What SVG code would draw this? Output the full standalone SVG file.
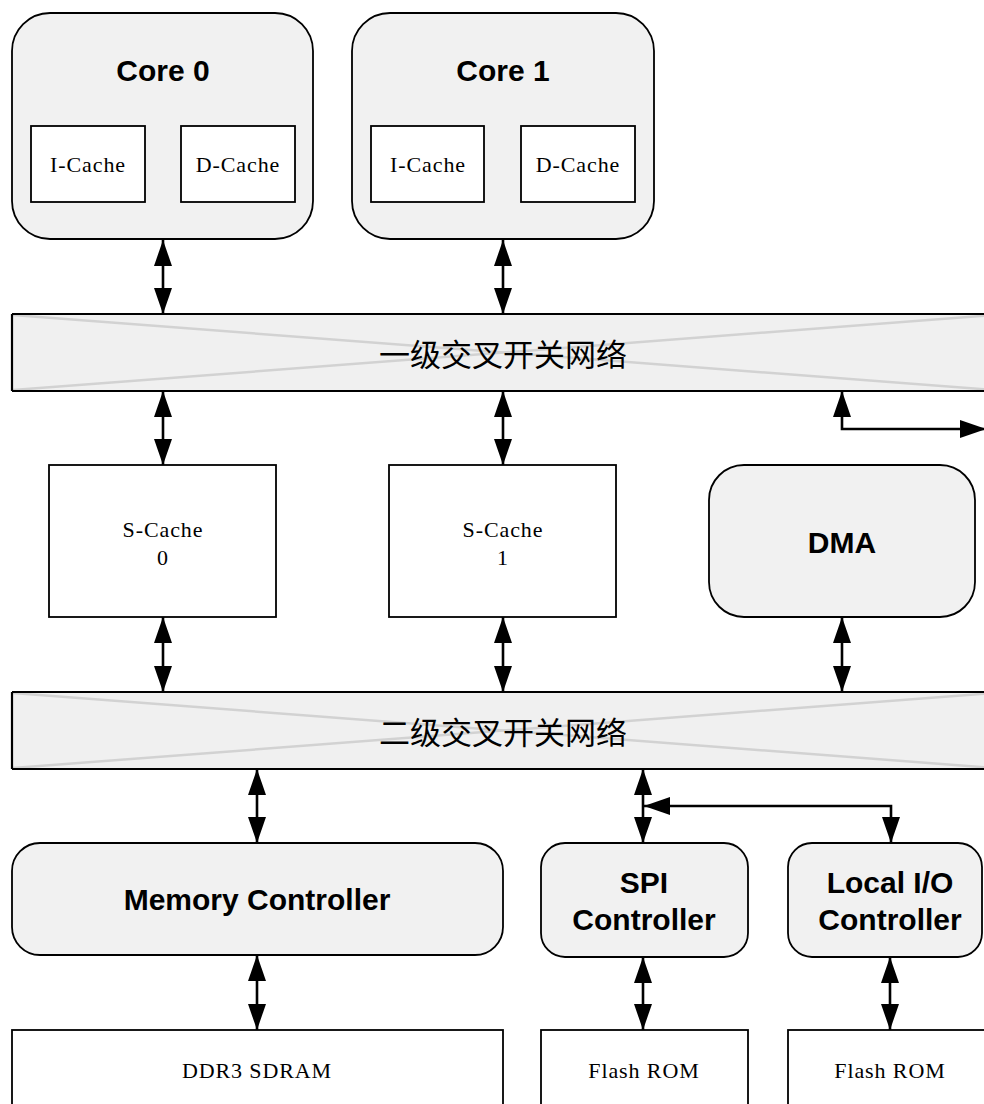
<svg xmlns="http://www.w3.org/2000/svg" width="984" height="1104" viewBox="0 0 984 1104">
<style>
.grp{fill:#f1f1f1;stroke:#000;stroke-width:1.8}
.box{fill:#fff;stroke:#000;stroke-width:1.8}
.bar{fill:#f0f0f0;stroke:none}
.barline{stroke:#000;stroke-width:2.2}
.diag{stroke:#d2d2d2;stroke-width:2.5}
.bold{font-family:"Liberation Sans",Arial,sans-serif;font-weight:bold;font-size:30px;text-anchor:middle;fill:#000}
.ser{font-family:"Liberation Serif","Times New Roman",serif;font-size:22px;letter-spacing:0.9px;text-anchor:middle;fill:#000}
.cjk{font-family:"Liberation Sans","Noto Sans CJK SC",sans-serif;font-size:31px;text-anchor:middle;fill:#000}
.conn{fill:none;stroke:#000;stroke-width:2.6}
</style>
<defs>
<marker id="ah" markerUnits="userSpaceOnUse" markerWidth="27" markerHeight="19" refX="26" refY="9" orient="auto-start-reverse" viewBox="0 0 27 19">
<path d="M0,0 L26,9 L0,18 z" fill="#000"/>
</marker>
</defs>

<g id="core0">
<rect class="grp" x="12" y="13" width="301" height="226" rx="38"/>
<text class="bold" x="163" y="81">Core 0</text>
<rect class="box" x="31" y="126" width="114" height="76"/>
<text class="ser" x="88" y="172">I-Cache</text>
<rect class="box" x="181" y="126" width="114" height="76"/>
<text class="ser" x="238" y="172">D-Cache</text>
</g>

<g id="core1">
<rect class="grp" x="352" y="13" width="302" height="226" rx="38"/>
<text class="bold" x="503" y="81">Core 1</text>
<rect class="box" x="371" y="126" width="113" height="76"/>
<text class="ser" x="428" y="172">I-Cache</text>
<rect class="box" x="521" y="126" width="114" height="76"/>
<text class="ser" x="578" y="172">D-Cache</text>
</g>

<g id="xbar1">
<rect class="bar" x="12" y="314" width="982" height="77"/>
<line class="diag" x1="13" y1="315" x2="994" y2="390"/>
<line class="diag" x1="13" y1="390" x2="994" y2="315"/>
<line class="barline" x1="12" y1="314" x2="994" y2="314"/>
<line class="barline" x1="12" y1="391" x2="994" y2="391"/>
<line class="barline" x1="12" y1="314" x2="12" y2="391"/>
<text class="cjk" x="503" y="366">一级交叉开关网络</text>
</g>

<g id="scache0">
<rect class="box" x="49" y="465" width="227" height="152"/>
<text class="ser" x="163" y="537">S-Cache</text>
<text class="ser" x="163" y="565">0</text>
</g>

<g id="scache1">
<rect class="box" x="389" y="465" width="227" height="152"/>
<text class="ser" x="503" y="537">S-Cache</text>
<text class="ser" x="503" y="565">1</text>
</g>

<g id="dma">
<rect class="grp" x="709" y="465" width="266" height="152" rx="35"/>
<text class="bold" x="842" y="553">DMA</text>
</g>

<g id="xbar2">
<rect class="bar" x="12" y="692" width="982" height="77"/>
<line class="diag" x1="13" y1="693" x2="994" y2="768"/>
<line class="diag" x1="13" y1="768" x2="994" y2="693"/>
<line class="barline" x1="12" y1="692" x2="994" y2="692"/>
<line class="barline" x1="12" y1="769" x2="994" y2="769"/>
<line class="barline" x1="12" y1="692" x2="12" y2="769"/>
<text class="cjk" x="503" y="744">二级交叉开关网络</text>
</g>

<g id="memctrl">
<rect class="grp" x="12" y="843" width="491" height="112" rx="28"/>
<text class="bold" x="257" y="910">Memory Controller</text>
</g>

<g id="spi">
<rect class="grp" x="541" y="843" width="207" height="114" rx="24"/>
<text class="bold" x="644" y="893">SPI</text>
<text class="bold" x="644" y="930">Controller</text>
</g>

<g id="localio">
<rect class="grp" x="788" y="843" width="194" height="114" rx="24"/>
<text class="bold" x="890" y="893">Local I/O</text>
<text class="bold" x="890" y="930">Controller</text>
</g>

<g id="ddr3">
<rect class="box" x="12" y="1030" width="491" height="90"/>
<text class="ser" x="257" y="1078">DDR3 SDRAM</text>
</g>

<g id="flash0">
<rect class="box" x="541" y="1030" width="207" height="90"/>
<text class="ser" x="644" y="1078">Flash ROM</text>
</g>

<g id="flash1">
<rect class="box" x="788" y="1030" width="204" height="90"/>
<text class="ser" x="890" y="1078">Flash ROM</text>
</g>

<g id="connectors">
<path class="conn" d="M163,240 V314" marker-start="url(#ah)" marker-end="url(#ah)"/>
<path class="conn" d="M503,240 V314" marker-start="url(#ah)" marker-end="url(#ah)"/>
<path class="conn" d="M163,391 V465" marker-start="url(#ah)" marker-end="url(#ah)"/>
<path class="conn" d="M503,391 V465" marker-start="url(#ah)" marker-end="url(#ah)"/>
<path class="conn" d="M986,429 H842 V391" marker-start="url(#ah)" marker-end="url(#ah)"/>
<path class="conn" d="M163,617 V692" marker-start="url(#ah)" marker-end="url(#ah)"/>
<path class="conn" d="M503,617 V692" marker-start="url(#ah)" marker-end="url(#ah)"/>
<path class="conn" d="M842,617 V692" marker-start="url(#ah)" marker-end="url(#ah)"/>
<path class="conn" d="M257,769 V843" marker-start="url(#ah)" marker-end="url(#ah)"/>
<path class="conn" d="M643,769 V843" marker-start="url(#ah)" marker-end="url(#ah)"/>
<path class="conn" d="M891,843 V806 H644" marker-start="url(#ah)" marker-end="url(#ah)"/>
<path class="conn" d="M257,955 V1030" marker-start="url(#ah)" marker-end="url(#ah)"/>
<path class="conn" d="M643,957 V1030" marker-start="url(#ah)" marker-end="url(#ah)"/>
<path class="conn" d="M890,957 V1030" marker-start="url(#ah)" marker-end="url(#ah)"/>
</g>
</svg>
